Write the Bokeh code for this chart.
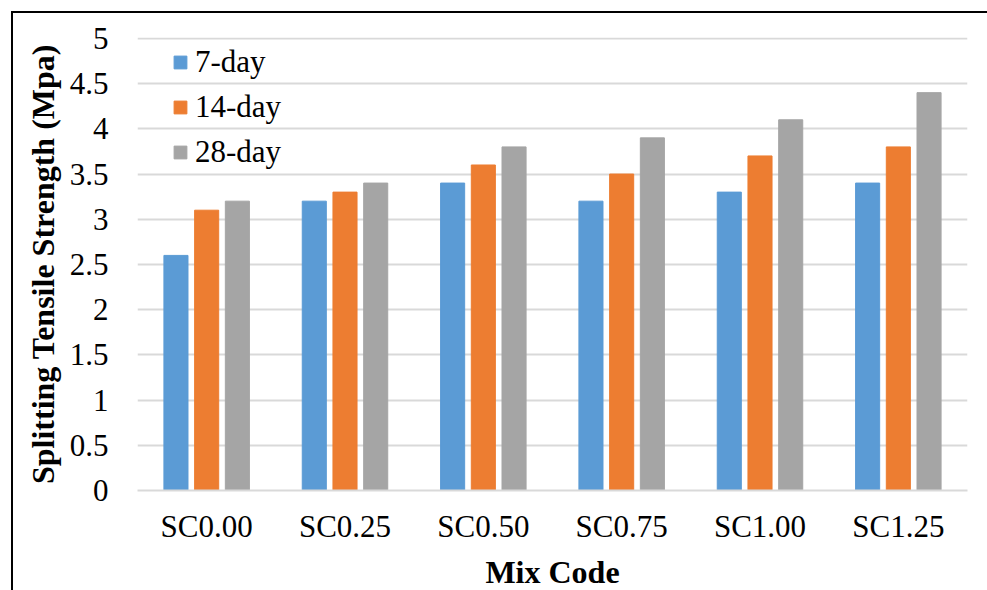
from bokeh.plotting import figure
from bokeh.models import FactorRange, Range1d, FixedTicker, NumeralTickFormatter, Legend, LegendItem, ColumnDataSource
from bokeh.transform import dodge
from bokeh.embed import file_html
from bokeh.resources import INLINE

categories = ["SC0.00", "SC0.25", "SC0.50", "SC0.75", "SC1.00", "SC1.25"]
series_names = ["7-day", "14-day", "28-day"]
day7 = [2.6, 3.2, 3.4, 3.2, 3.3, 3.4]
day14 = [3.1, 3.3, 3.6, 3.5, 3.7, 3.8]
day28 = [3.2, 3.4, 3.8, 3.9, 4.1, 4.4]
y_ticks = [0, 0.5, 1, 1.5, 2, 2.5, 3, 3.5, 4, 4.5, 5]
colors = ["#5B9BD5", "#ED7D31", "#A5A5A5"]

src = ColumnDataSource(dict(cat=categories, d7=day7, d14=day14, d28=day28))

FONT = "Liberation Serif"
FS = "31px"

p = figure(x_range=FactorRange(*categories, range_padding=0),
           y_range=Range1d(0, 5.01),
           width=976, height=579,
           output_backend="svg", toolbar_location=None,
           min_border_left=124, min_border_right=22,
           min_border_top=24, min_border_bottom=100)
p.styles = {"margin-left": "11px", "margin-top": "11px",
            "border-left": "2px solid black", "border-top": "2px solid black"}

offsets = [-0.222, 0.0, 0.222]
cols = ["d7", "d14", "d28"]
renderers = []
for col, off, c in zip(cols, offsets, colors):
    r = p.vbar(x=dodge("cat", off, range=p.x_range), top=col, width=0.174,
               source=src, fill_color=c, line_color=c, line_width=1)
    renderers.append(r)

p.outline_line_color = None
p.xgrid.grid_line_color = None
p.ygrid.grid_line_color = "#D9D9D9"
p.ygrid.grid_line_width = 2
p.yaxis.ticker = FixedTicker(ticks=y_ticks)
p.yaxis.formatter = NumeralTickFormatter(format="0.[0]")
p.yaxis.axis_line_color = None
p.xaxis.axis_line_color = "#D9D9D9"
p.xaxis.axis_line_width = 2
for ax in (p.xaxis, p.yaxis):
    ax.major_tick_line_color = None
    ax.minor_tick_line_color = None
    ax.major_label_text_font = FONT
    ax.major_label_text_font_size = FS
    ax.major_label_text_color = "black"
    ax.axis_label_text_font = FONT
    ax.axis_label_text_font_size = "32px"
    ax.axis_label_text_font_style = "bold"
    ax.axis_label_text_color = "black"
p.yaxis.major_label_standoff = 23
p.xaxis.major_label_standoff = 12
p.yaxis.axis_label = "Splitting Tensile Strength (Mpa)"
p.xaxis.axis_label = "Mix Code"
p.yaxis.axis_label_standoff = 6
p.xaxis.axis_label_standoff = 7

legend = Legend(items=[LegendItem(label=n, renderers=[r]) for n, r in zip(series_names, renderers)],
                location=(35, 320), orientation="vertical",
                label_text_font=FONT, label_text_font_size=FS, label_text_color="black",
                glyph_width=16, glyph_height=16, label_standoff=7,
                label_height=31, spacing=9, padding=0, margin=0,
                border_line_color=None, background_fill_alpha=0)
p.add_layout(legend, "center")

open("out.html", "w").write(file_html(p, INLINE))
